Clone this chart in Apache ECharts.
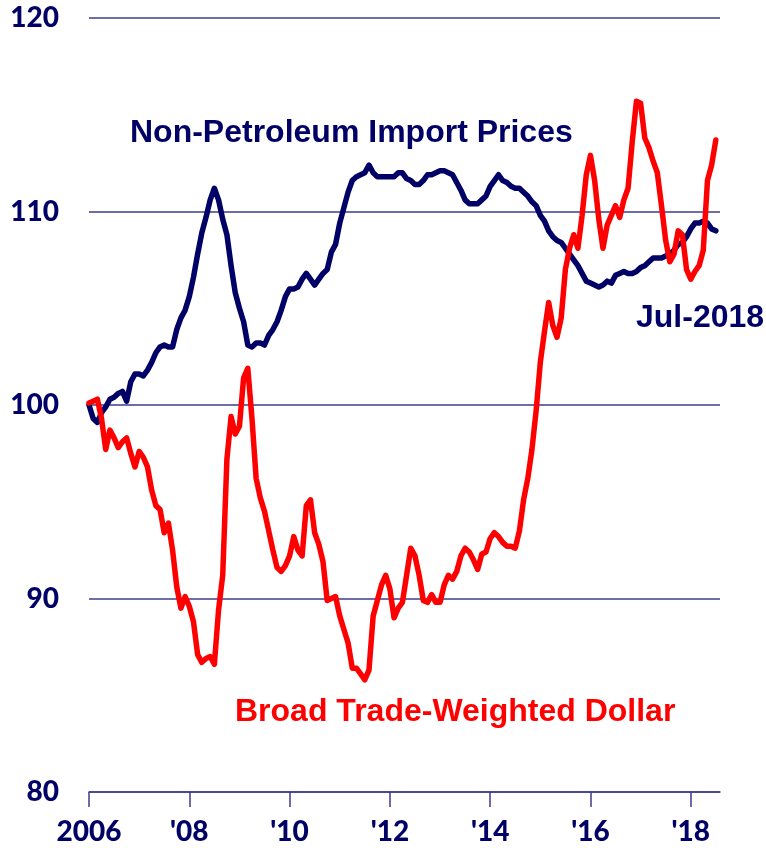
<!DOCTYPE html>
<html>
<head>
<meta charset="utf-8">
<title>Non-Petroleum Import Prices vs Broad Trade-Weighted Dollar</title>
<script src="https://cdn.jsdelivr.net/npm/echarts@6/dist/echarts.min.js"></script>
<style>
    html, body { margin: 0; padding: 0; background: #fff; }
    #chart { width: 766px; height: 848px; }
</style>
</head>
<body>
<div id="chart"></div>
<script>
// monthly index, Jan 2006 = 0 ... Jul 2018 = 150
const xTickMonths = [0, 24, 48, 72, 96, 120, 144];
const xTickLabels = ["2006", "'08", "'10", "'12", "'14", "'16", "'18"];
const yTicks = [80, 90, 100, 110, 120];

// Non-Petroleum Import Prices (index)
const importPrices = [
    100.0, 99.3, 99.1, 99.6, 99.9, 100.3, 100.4, 100.6, 100.7, 100.2, 101.2, 101.6,
    101.6, 101.5, 101.8, 102.2, 102.7, 103.0, 103.1, 103.0, 103.0, 103.9, 104.5, 104.9,
    105.6, 106.6, 107.8, 108.9, 109.7, 110.6, 111.2, 110.6, 109.6, 108.8, 107.2, 105.8,
    105.0, 104.3, 103.1, 103.0, 103.2, 103.2, 103.1, 103.6, 103.9, 104.3, 104.9, 105.6,
    106.0, 106.0, 106.1, 106.5, 106.8, 106.5, 106.2, 106.5, 106.8, 107.0, 107.9, 108.3,
    109.4, 110.2, 111.0, 111.6, 111.8, 111.9, 112.0, 112.4, 112.0, 111.8, 111.8, 111.8,
    111.8, 111.8, 112.0, 112.0, 111.7, 111.6, 111.4, 111.4, 111.6, 111.9, 111.9, 112.0,
    112.1, 112.1, 112.0, 111.9, 111.5, 111.1, 110.6, 110.4, 110.4, 110.4, 110.6, 110.8,
    111.3, 111.6, 111.9, 111.6, 111.5, 111.3, 111.2, 111.2, 111.0, 110.8, 110.5, 110.3,
    109.8, 109.5, 109.0, 108.7, 108.5, 108.4, 108.1, 107.8, 107.5, 107.2, 106.8, 106.4,
    106.3, 106.2, 106.1, 106.2, 106.4, 106.3, 106.7, 106.8, 106.9, 106.8, 106.8, 106.9,
    107.1, 107.2, 107.4, 107.6, 107.6, 107.6, 107.7, 107.8, 108.0, 108.3, 108.4, 108.7,
    109.1, 109.4, 109.4, 109.5, 109.4, 109.1, 109.0
];

// Broad Trade-Weighted Dollar (index)
const tradeDollar = [
    100.1, 100.2, 100.3, 99.3, 97.7, 98.7, 98.3, 97.8, 98.1, 98.3, 97.5, 96.8,
    97.6, 97.3, 96.8, 95.6, 94.8, 94.6, 93.4, 93.9, 92.5, 90.6, 89.5, 90.1,
    89.6, 88.8, 87.1, 86.7, 86.9, 87.0, 86.6, 89.4, 91.2, 97.2, 99.4, 98.5,
    98.9, 101.4, 101.9, 99.3, 96.2, 95.2, 94.5, 93.5, 92.5, 91.6, 91.4, 91.7,
    92.2, 93.2, 92.5, 92.2, 94.8, 95.1, 93.4, 92.8, 91.9, 89.9, 90.0, 90.1,
    89.1, 88.4, 87.7, 86.4, 86.4, 86.1, 85.8, 86.3, 89.1, 89.9, 90.7, 91.2,
    90.5, 89.0, 89.5, 89.8, 91.2, 92.6, 92.2, 91.2, 89.9, 89.8, 90.2, 89.8,
    89.8, 90.7, 91.2, 91.0, 91.4, 92.2, 92.6, 92.4, 92.0, 91.5, 92.3, 92.4,
    93.1, 93.4, 93.2, 92.9, 92.7, 92.7, 92.6, 93.5, 95.1, 96.2, 97.7, 99.7,
    102.2, 103.8, 105.3, 104.1, 103.5, 104.5, 107.0, 108.1, 108.8, 108.1, 109.8, 111.9,
    112.9, 111.6, 109.6, 108.1, 109.3, 109.8, 110.3, 109.7, 110.6, 111.2, 113.6, 115.7,
    115.6, 113.8, 113.3, 112.6, 112.0, 110.3, 108.5, 107.4, 107.8, 109.0, 108.8, 107.0,
    106.5, 106.9, 107.2, 108.0, 111.6, 112.4, 113.7
];

const navy = "#000066";
const red = "#ff0000";
const gridColor = "#3c3c8c";
const noteFont = "bold 32px 'Liberation Sans', Arial, sans-serif";

let chart = echarts.init(document.getElementById("chart"), null, { renderer: "canvas" });

let option = {
    animation: false,
    backgroundColor: "#fff",
    grid: {
        left: 89,
        right: 46,
        top: 18,
        bottom: 56,
    },
    xAxis: {
        type: "value",
        min: 0,
        max: 151,
        axisLine: {
            show: true,
            lineStyle: { color: gridColor, width: 1.5 },
        },
        axisTick: {
            show: true,
            length: 15,
            customValues: xTickMonths,
            lineStyle: { color: gridColor, width: 1.5 },
        },
        axisLabel: {
            customValues: xTickMonths,
            margin: 26,
            color: navy,
            fontFamily: "Lato",
            fontWeight: 900,
            fontSize: 28,
            formatter: (v) => xTickLabels[xTickMonths.indexOf(v)] || "",
        },
        splitLine: { show: false },
    },
    yAxis: {
        type: "value",
        min: 80,
        max: 120,
        interval: 10,
        axisLine: { show: false },
        axisTick: { show: false },
        axisLabel: {
            margin: 30,
            color: navy,
            fontFamily: "Lato",
            fontWeight: 900,
            fontSize: 28,
            formatter: (v) => (yTicks.indexOf(v) >= 0 ? String(v) : ""),
        },
        splitLine: {
            show: true,
            lineStyle: { color: gridColor, width: 1.5 },
        },
    },
    series: [
        {
            name: "Non-Petroleum Import Prices",
            type: "line",
            symbol: "none",
            lineStyle: { color: navy, width: 5.5, join: "round", cap: "round" },
            data: importPrices.map((v, i) => [i, v]),
            z: 3,
        },
        {
            name: "Broad Trade-Weighted Dollar",
            type: "line",
            symbol: "none",
            lineStyle: { color: red, width: 5.5, join: "round", cap: "round" },
            data: tradeDollar.map((v, i) => [i, v]),
            z: 4,
        },
    ],
    // 注释文字
    graphic: [
        {
            type: "text",
            x: 130,
            y: 133,
            style: {
                text: "Non-Petroleum Import Prices",
                fill: navy,
                font: noteFont,
                textAlign: "left",
                textVerticalAlign: "middle",
            },
        },
        {
            type: "text",
            x: 235,
            y: 712,
            style: {
                text: "Broad Trade-Weighted Dollar",
                fill: red,
                font: noteFont,
                textAlign: "left",
                textVerticalAlign: "middle",
            },
        },
        {
            type: "text",
            x: 636,
            y: 318,
            style: {
                text: "Jul-2018",
                fill: navy,
                font: noteFont,
                textAlign: "left",
                textVerticalAlign: "middle",
            },
        },
    ],
};

chart.setOption(option);
</script>
</body>
</html>
